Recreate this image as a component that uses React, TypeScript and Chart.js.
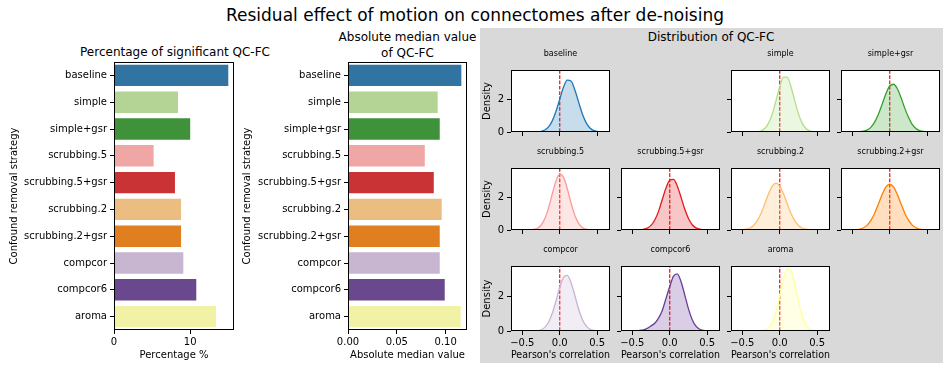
import React, { useEffect, useRef } from "react";
import { Chart, registerables } from "chart.js";

Chart.register(...registerables);

const FONT = "'DejaVu Sans', sans-serif";

// ---------------- data ----------------
const strategies = [
  "baseline",
  "simple",
  "simple+gsr",
  "scrubbing.5",
  "scrubbing.5+gsr",
  "scrubbing.2",
  "scrubbing.2+gsr",
  "compcor",
  "compcor6",
  "aroma",
];

const pctSignificant = [15.0, 8.4, 10.0, 5.2, 8.0, 8.8, 8.8, 9.1, 10.8, 13.4];
const absMedian = [0.116, 0.0918, 0.0939, 0.0786, 0.0878, 0.0959, 0.0939, 0.0939, 0.099, 0.1153];

const barColors = [
  "#3274a1", "#b3d495", "#3f9239", "#efa6a5", "#ca3335",
  "#ebbd81", "#df7f20", "#c8b6d1", "#6a488e", "#f2f2a6",
];
const lineColors = [
  "#1f78b4", "#b2df8a", "#33a02c", "#fb9a99", "#e31a1c",
  "#fdbf6f", "#ff7f00", "#cab2d6", "#6a3d9a", "#ffff99",
];

const pctTicks = [0, 10];
const medianTicks = [0, 0.05, 0.1];
const corrTicks = [-0.5, 0, 0.5];
const densityTicks = [0, 2];

// Pearson's correlation sample points for density curves
const corrGrid = [
  -0.55, -0.5, -0.45, -0.4, -0.35, -0.3, -0.25, -0.2, -0.15, -0.1, -0.05, 0,
  0.05, 0.1, 0.15, 0.2, 0.25, 0.3, 0.35, 0.4, 0.45, 0.5, 0.55,
];
const densityBaseline = [0, 0, 0, 0, 0.003, 0.01, 0.04, 0.12, 0.31, 0.68, 1.27, 2.01, 2.73, 3.17, 3.12, 2.6, 1.86, 1.13, 0.59, 0.26, 0.1, 0.03, 0.01];
const densitySimple = [0, 0, 0, 0.001, 0.005, 0.02, 0.07, 0.21, 0.54, 1.1, 1.92, 2.77, 3.36, 3.36, 2.77, 1.92, 1.1, 0.54, 0.21, 0.07, 0.02, 0.005, 0.001];
const densitySimpleGsr = [0, 0.001, 0.005, 0.015, 0.05, 0.13, 0.3, 0.62, 1.1, 1.72, 2.36, 2.81, 2.92, 2.66, 2.11, 1.46, 0.9, 0.47, 0.22, 0.09, 0.03, 0.01, 0.003];
const densityScrub5 = [0, 0, 0.002, 0.008, 0.03, 0.1, 0.29, 0.69, 1.34, 2.2, 3.0, 3.41, 3.23, 2.54, 1.66, 0.92, 0.42, 0.16, 0.05, 0.013, 0.003, 0.001, 0];
const densityScrub5Gsr = [0, 0.001, 0.002, 0.01, 0.04, 0.11, 0.28, 0.61, 1.14, 1.86, 2.57, 3.04, 3.09, 2.69, 2.01, 1.28, 0.7, 0.32, 0.13, 0.05, 0.013, 0.003, 0.001];
const densityScrub2 = [0.004, 0.015, 0.05, 0.12, 0.28, 0.57, 1.01, 1.6, 2.21, 2.68, 2.86, 2.68, 2.21, 1.6, 1.01, 0.57, 0.28, 0.12, 0.05, 0.015, 0.004, 0.001, 0];
const densityScrub2Gsr = [0.002, 0.006, 0.02, 0.05, 0.14, 0.3, 0.6, 1.04, 1.61, 2.19, 2.64, 2.81, 2.64, 2.19, 1.61, 1.04, 0.6, 0.3, 0.14, 0.05, 0.02, 0.006, 0.002];
const densityCompcor = [0, 0, 0, 0.001, 0.006, 0.02, 0.07, 0.21, 0.51, 1.03, 1.77, 2.55, 3.13, 3.24, 2.83, 2.1, 1.31, 0.69, 0.31, 0.12, 0.04, 0.01, 0.002];
const densityCompcor6 = [0.005, 0.01, 0.02, 0.04, 0.07, 0.15, 0.3, 0.45, 0.75, 1.2, 1.9, 2.59, 3.2, 3.33, 2.89, 2.11, 1.29, 0.66, 0.28, 0.1, 0.03, 0.01, 0.003];
const densityAroma = [0, 0, 0, 0, 0, 0.002, 0.01, 0.05, 0.18, 0.5, 1.13, 2.06, 3.03, 3.62, 3.52, 2.73, 1.73, 0.89, 0.37, 0.12, 0.03, 0.008, 0.002];

const densities = [
  densityBaseline, densitySimple, densitySimpleGsr, densityScrub5, densityScrub5Gsr,
  densityScrub2, densityScrub2Gsr, densityCompcor, densityCompcor6, densityAroma,
];

// ---------------- helpers ----------------
function withAlpha(hex: string, a: number) {
  const r = parseInt(hex.slice(1, 3), 16);
  const g = parseInt(hex.slice(3, 5), 16);
  const b = parseInt(hex.slice(5, 7), 16);
  return `rgba(${r},${g},${b},${a})`;
}

const framePlugin = {
  id: "frame",
  beforeDraw(chart: any) {
    const { ctx, chartArea: a } = chart;
    ctx.save();
    ctx.fillStyle = "#ffffff";
    ctx.fillRect(a.left, a.top, a.right - a.left, a.bottom - a.top);
    ctx.restore();
  },
  afterDraw(chart: any) {
    const { ctx, chartArea: a } = chart;
    ctx.save();
    ctx.strokeStyle = "#000000";
    ctx.lineWidth = 1;
    ctx.strokeRect(a.left + 0.5, a.top + 0.5, a.right - a.left - 1, a.bottom - a.top - 1);
    ctx.restore();
  },
};

const tickFont = { family: FONT, size: 10 };

function barConfig(
  values: number[],
  xMax: number,
  tickVals: number[],
  fmt: (v: number) => string,
  xTitle: string,
  yWidth: number,
  xHeight: number,
  padRight: number,
  padTop: number,
  yTitlePad: number
): any {
  return {
    type: "bar",
    data: {
      labels: strategies,
      datasets: [
        {
          data: values,
          backgroundColor: barColors,
          borderWidth: 0,
          categoryPercentage: 0.8,
          barPercentage: 1,
        },
      ],
    },
    options: {
      indexAxis: "y",
      animation: false,
      responsive: false,
      devicePixelRatio: 1,
      layout: { padding: { left: 0, right: padRight, top: padTop, bottom: 0 } },
      plugins: { legend: { display: false }, tooltip: { enabled: false }, title: { display: false } },
      scales: {
        x: {
          type: "linear",
          min: 0,
          max: xMax,
          afterBuildTicks: (s: any) => {
            s.ticks = tickVals.map((v) => ({ value: v }));
          },
          afterFit: (s: any) => {
            s.height = xHeight;
          },
          ticks: {
            callback: (v: any) => fmt(Number(v)),
            color: "#000",
            font: tickFont,
            padding: 2,
            maxRotation: 0,
            autoSkip: false,
          },
          grid: { drawOnChartArea: false, drawTicks: true, tickLength: 4, color: "#000" },
          border: { display: false },
          title: {
            display: true,
            text: xTitle,
            color: "#000",
            font: tickFont,
            padding: { top: 0, bottom: 10 },
          },
        },
        y: {
          afterFit: (s: any) => {
            s.width = yWidth;
          },
          ticks: { color: "#000", font: tickFont, padding: 3, autoSkip: false },
          grid: { offset: false, drawOnChartArea: false, drawTicks: true, tickLength: 4, color: "#000" },
          border: { display: false },
          title: {
            display: true,
            text: "Confound removal strategy",
            color: "#000",
            font: tickFont,
            padding: { top: yTitlePad, bottom: 0 },
          },
        },
      },
    },
    plugins: [framePlugin],
  };
}

const corrMin = -0.651;
const corrMax = 0.671;
const densityMax = 3.79;

function fmtCorr(v: number) {
  if (Math.abs(v) < 1e-9) return "0.0";
  return (v < 0 ? "\u2212" : "") + Math.abs(v).toFixed(1);
}

function densityConfig(values: number[], color: string, showY: boolean, showX: boolean, bottomH: number): any {
  return {
    type: "line",
    data: {
      datasets: [
        {
          data: corrGrid.map((x, i) => ({ x, y: values[i] })),
          borderColor: color,
          backgroundColor: withAlpha(color, 0.25),
          borderWidth: 1.3,
          fill: "origin",
          pointRadius: 0,
          cubicInterpolationMode: "monotone",
        },
        {
          data: [
            { x: 0, y: 0 },
            { x: 0, y: densityMax },
          ],
          borderColor: "#ff0000",
          borderWidth: 1.2,
          borderDash: [3.7, 1.6],
          pointRadius: 0,
          fill: false,
        },
      ],
    },
    options: {
      animation: false,
      responsive: false,
      devicePixelRatio: 1,
      layout: { padding: { left: 0, right: 4, top: 2, bottom: 0 } },
      plugins: { legend: { display: false }, tooltip: { enabled: false } },
      scales: {
        x: {
          type: "linear",
          min: corrMin,
          max: corrMax,
          afterBuildTicks: (s: any) => {
            s.ticks = corrTicks.map((v) => ({ value: v }));
          },
          afterFit: (s: any) => {
            s.height = bottomH;
          },
          ticks: {
            callback: (v: any) => fmtCorr(Number(v)),
            color: showX ? "#000" : "rgba(0,0,0,0)",
            font: tickFont,
            padding: 2,
            maxRotation: 0,
            autoSkip: false,
          },
          grid: { drawOnChartArea: false, drawTicks: true, tickLength: 4, color: "#000" },
          border: { display: false },
          title: {
            display: showX,
            text: "Pearson's correlation",
            color: "#000",
            font: tickFont,
            padding: { top: 0, bottom: 5 },
          },
        },
        y: {
          type: "linear",
          min: 0,
          max: densityMax,
          afterBuildTicks: (s: any) => {
            s.ticks = densityTicks.map((v) => ({ value: v }));
          },
          afterFit: (s: any) => {
            s.width = 34;
          },
          ticks: {
            callback: (v: any) => String(v),
            color: showY ? "#000" : "rgba(0,0,0,0)",
            font: tickFont,
            padding: 3,
            autoSkip: false,
          },
          grid: { drawOnChartArea: false, drawTicks: true, tickLength: 4, color: "#000" },
          border: { display: false },
          title: {
            display: showY,
            text: "Density",
            color: "#000",
            font: tickFont,
            padding: { top: 4.6, bottom: 0 },
          },
        },
      },
    },
    plugins: [framePlugin],
  };
}

// ---------------- components ----------------
function ChartCanvas(props: { left: number; top: number; width: number; height: number; make: () => any }) {
  const { left, top, width, height, make } = props;
  const ref = useRef<HTMLCanvasElement | null>(null);
  useEffect(() => {
    const chart = new Chart(ref.current as HTMLCanvasElement, make());
    return () => chart.destroy();
  }, []);
  return (
    <canvas
      ref={ref}
      width={width}
      height={height}
      style={{ position: "absolute", left, top, width, height }}
    />
  );
}

function Label(props: { x: number; y: number; text: string; size: number; rotate?: number }) {
  const { x, y, text, size, rotate = 0 } = props;
  return (
    <div
      style={{
        position: "absolute",
        left: x,
        top: y,
        transform: `translate(-50%, -50%) rotate(${rotate}deg)`,
        fontFamily: FONT,
        fontSize: size,
        color: "#000",
        whiteSpace: "nowrap",
        lineHeight: 1,
      }}
    >
      {text}
    </div>
  );
}

const colLefts = [511, 621, 731, 841];
const rowTops = [63, 161, 259];
const cellW = 99;
const cellH = 72;
const gridSlots = [
  [0, 0], [0, 2], [0, 3],
  [1, 0], [1, 1], [1, 2], [1, 3],
  [2, 0], [2, 1], [2, 2],
];

export default function App() {
  return (
    <div
      style={{
        position: "absolute",
        left: 0,
        top: 0,
        width: 947,
        height: 371,
        background: "#ffffff",
        overflow: "hidden",
      }}
    >
      <div style={{ position: "absolute", left: 480, top: 28, width: 463, height: 335, background: "#d9d9d9" }} />

      <Label x={475} y={15} text="Residual effect of motion on connectomes after de-noising" size={17} />
      <Label x={175} y={52} text="Percentage of significant QC-FC" size={12} />
      <Label x={407.5} y={37} text="Absolute median value" size={12} />
      <Label x={407.5} y={53} text="of QC-FC" size={12} />
      <Label x={711} y={37} text="Distribution of QC-FC" size={12} />

      <ChartCanvas
        left={0}
        top={40}
        width={240}
        height={331}
        make={() =>
          barConfig(pctSignificant, 15.75, pctTicks, (v) => String(v), "Percentage %", 114, 41, 6, 22, 8)
        }
      />
      <ChartCanvas
        left={240}
        top={40}
        width={240}
        height={331}
        make={() =>
          barConfig(absMedian, 0.1218, medianTicks, (v) => v.toFixed(2), "Absolute median value", 108, 41, 13, 22, 1)
        }
      />

      {gridSlots.map(([r, c], i) => {
        const bottomH = r === 2 ? 35 : 6;
        return (
          <ChartCanvas
            key={strategies[i]}
            left={colLefts[c] - 34}
            top={rowTops[r] - 2}
            width={34 + cellW + 4}
            height={2 + cellH + bottomH}
            make={() => densityConfig(densities[i], lineColors[i], c === 0, r === 2, bottomH)}
          />
        );
      })}
      {gridSlots.map(([r, c], i) => (
        <Label key={"t" + i} x={colLefts[c] + cellW / 2} y={rowTops[r] - 9} text={strategies[i]} size={8} />
      ))}
    </div>
  );
}
